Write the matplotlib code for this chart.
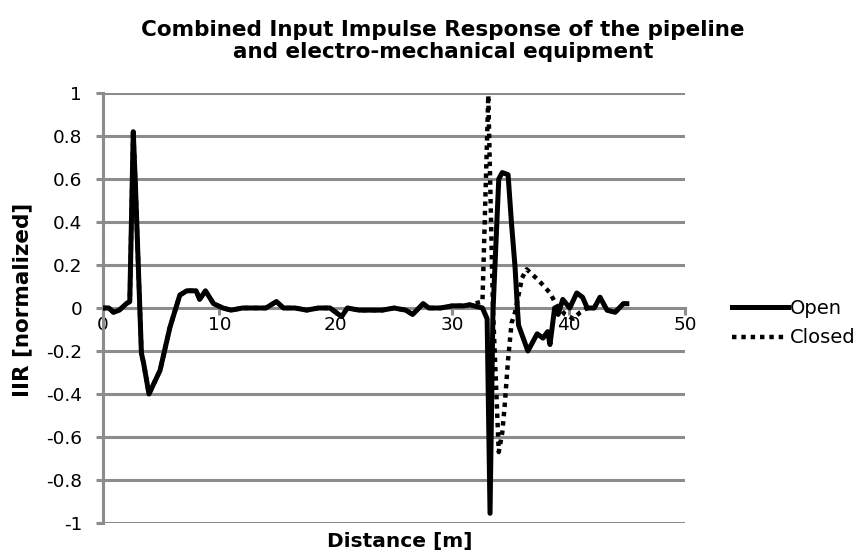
import matplotlib
matplotlib.use("Agg")
import matplotlib.pyplot as plt

# Open (solid) series
open_x = [0, 0.5, 0.9, 1.4, 2.0, 2.3, 2.6, 2.8, 3.3, 3.5, 3.95, 4.9, 5.75, 6.6, 7.2, 8.0, 8.3, 8.8,
          9.5, 10.3, 11.0, 12.0, 13.0, 14.0, 14.9, 15.5, 16.5, 17.5, 18.5, 19.5, 20.5, 21.0, 22.0,
          23.0, 24.0, 25.0, 26.0, 26.6, 27.5, 28.0, 29.0, 30.0, 31.0, 31.5, 32.6, 33.0, 33.25,
          33.5, 34.0, 34.3, 34.8, 35.1, 35.4, 35.6, 35.7, 36.5, 37.3, 37.8, 38.2, 38.4, 38.8,
          39.1, 39.5, 40.1, 40.7, 41.2, 41.6, 42.2, 42.7, 43.3, 44.0, 44.7, 45.0]
open_y = [0.0, 0.0, -0.02, -0.01, 0.02, 0.03, 0.82, 0.55, -0.21, -0.26, -0.40, -0.29, -0.09, 0.06,
          0.08, 0.08, 0.04, 0.08, 0.02, 0.0, -0.01, 0.0, 0.0, 0.0, 0.03, 0.0, 0.0, -0.01, 0.0,
          0.0, -0.04, 0.0, -0.01, -0.01, -0.01, 0.0, -0.01, -0.03, 0.02, 0.0, 0.0, 0.01, 0.01,
          0.015, 0.0, -0.05, -0.955, -0.02, 0.6, 0.63, 0.62, 0.39, 0.19, 0.0, -0.08, -0.2,
          -0.12, -0.14, -0.11, -0.17, 0.0, -0.03, 0.04, 0.0, 0.07, 0.05, 0.0, 0.0, 0.05, -0.01,
          -0.02, 0.02, 0.02]

# Closed (dotted) series
closed_x = [0, 0.5, 0.9, 1.4, 2.0, 2.3, 2.6, 2.8, 3.3, 3.5, 3.95, 4.9, 5.75, 6.6, 7.2, 8.0, 8.3,
            8.8, 9.5, 10.3, 11.0, 12.0, 13.0, 14.0, 14.9, 15.5, 16.5, 17.5, 18.5, 19.5, 20.5,
            21.0, 22.0, 23.0, 24.0, 25.0, 26.0, 26.6, 27.5, 28.0, 29.0, 30.0, 31.0, 31.5, 32.6,
            33.1, 33.5, 34.0, 34.3, 34.5, 34.8, 35.1, 35.4, 36.0, 36.4, 37.4, 38.4, 39.0, 39.7,
            40.4, 41.0, 41.6, 42.2, 42.7, 43.3, 44.0, 44.7, 45.0]
closed_y = [0.0, 0.0, -0.02, -0.01, 0.02, 0.03, 0.82, 0.55, -0.21, -0.26, -0.40, -0.29, -0.09,
            0.06, 0.08, 0.08, 0.04, 0.08, 0.02, 0.0, -0.01, 0.0, 0.0, 0.0, 0.03, 0.0, 0.0, -0.01,
            0.0, 0.0, -0.04, 0.0, -0.01, -0.01, -0.01, 0.0, -0.01, -0.03, 0.02, 0.0, 0.0, 0.01,
            0.01, 0.015, 0.03, 0.99, 0.0, -0.67, -0.58, -0.46, -0.24, -0.07, -0.02, 0.14, 0.18,
            0.13, 0.07, 0.01, -0.03, -0.05, -0.02, 0.0, 0.0, 0.05, -0.01, -0.02, 0.02, 0.02]

x_ticks = [0, 10, 20, 30, 40, 50]
y_ticks = [-1, -0.8, -0.6, -0.4, -0.2, 0, 0.2, 0.4, 0.6, 0.8, 1]
y_tick_labels = ["-1", "-0.8", "-0.6", "-0.4", "-0.2", "0", "0.2", "0.4", "0.6", "0.8", "1"]

plt.rcParams['font.family'] = ['DejaVu Sans']
fig = plt.figure(figsize=(8.67, 5.54), dpi=100)
ax = fig.add_axes([103/867, 1 - 523/554, (685 - 103)/867, (523 - 93)/554])

grid_c = '#8c8c8c'
for yv in y_ticks:
    if yv != 0:
        ax.axhline(yv, color=grid_c, lw=2.2, zorder=1)

ax.plot(open_x, open_y, color='black', lw=3.6, solid_joinstyle='round', zorder=3, label='Open')
ax.plot(closed_x, closed_y, color='black', lw=3.2, linestyle=(0, (1, 1.1)), zorder=4, label='Closed')

ax.set_xlim(0, 50)
ax.set_ylim(-1, 1)
ax.set_xticks(x_ticks)
ax.set_xticklabels([str(v) for v in x_ticks])
ax.set_yticks(y_ticks)
ax.set_yticklabels(y_tick_labels)

for s in ['top', 'right']:
    ax.spines[s].set_visible(False)
ax.spines['bottom'].set_position(('data', 0))
ax.spines['bottom'].set_color(grid_c)
ax.spines['bottom'].set_linewidth(2.2)
ax.spines['bottom'].set_zorder(1)
ax.spines['left'].set_color(grid_c)
ax.spines['left'].set_linewidth(2.2)
ax.tick_params(axis='both', colors=grid_c, width=2.2, length=5, labelsize=13.3,
               labelcolor='black', direction='out')
ax.tick_params(axis='x', pad=1)
ax.tick_params(axis='y', pad=10)

fig.text(22/867, 1 - 300/554, 'IIR [normalized]', rotation=90, ha='center', va='center',
         fontsize=15.5, fontweight='bold')
fig.text(400/867, 1 - 541/554, 'Distance [m]', ha='center', va='center',
         fontsize=14.5, fontweight='bold')
fig.text(443/867, 1 - 41/554, 'Combined Input Impulse Response of the pipeline\nand electro-mechanical equipment',
         ha='center', va='center', fontsize=15.5, fontweight='bold', linespacing=1.1)

leg = ax.legend(loc='center left', bbox_to_anchor=(724/867, 1 - 323/554),
                bbox_transform=fig.transFigure, frameon=False, fontsize=14,
                handlelength=2.9, handletextpad=0.1, labelspacing=0.55, borderaxespad=0)

fig.savefig('out.png', dpi=100)
